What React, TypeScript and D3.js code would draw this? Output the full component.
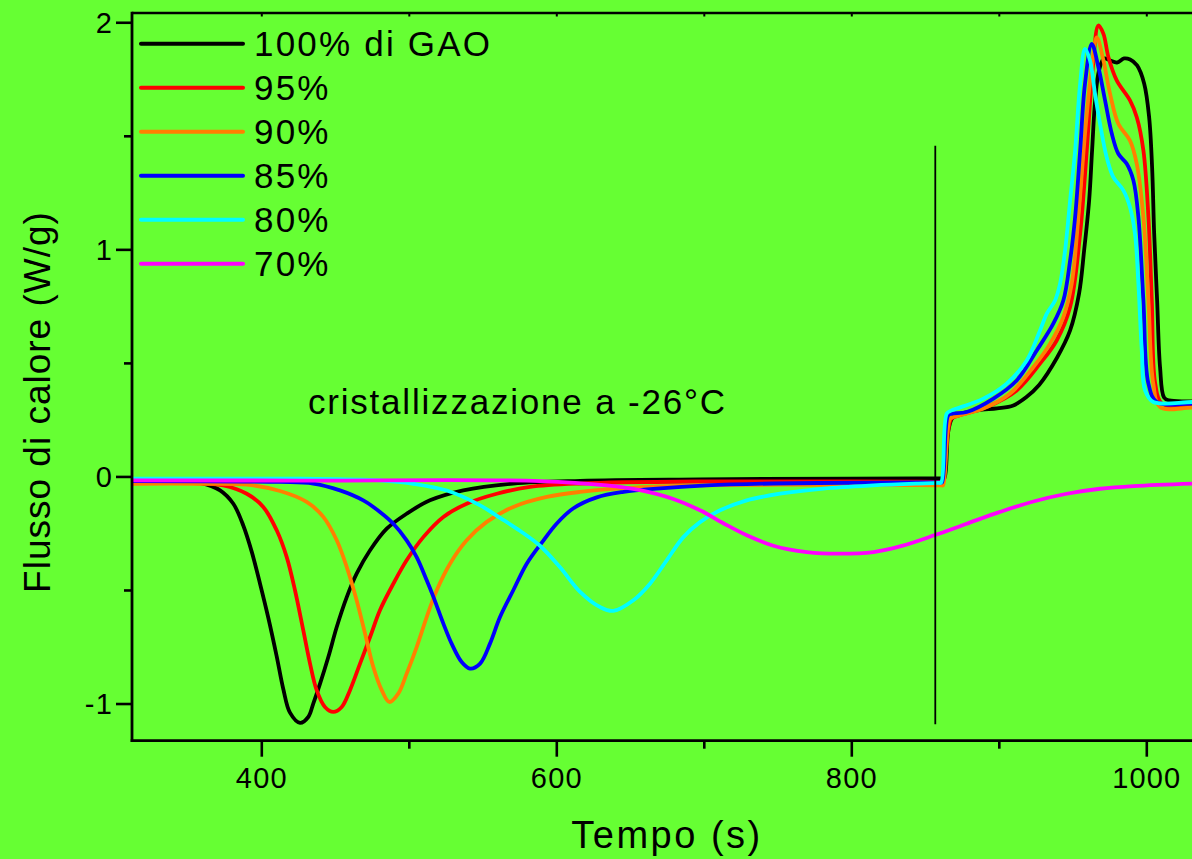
import React from "react";
import * as d3 from "d3";

// DSC traces: heat flow (W/g) vs time (s), isothermal crystallization at -26°C followed by heating
const seriesNames = ["100% di GAO", "95%", "90%", "85%", "80%", "70%"];
const seriesColors = ["#000000", "#ff0000", "#ff8000", "#0000ff", "#00ffff", "#ff00ff"];

const gao100: [number, number][] = [
  [312, -0.015], [344.5, -0.018], [358.1, -0.026], [371.7, -0.059], [380.7, -0.118], [387.5, -0.215],
  [393.2, -0.33], [398.8, -0.47], [404.4, -0.62], [410.1, -0.79], [414.6, -0.935], [419.1, -1.038],
  [425.9, -1.083], [431.5, -1.057], [434.9, -0.998], [439.5, -0.91], [445.1, -0.793], [450.8, -0.661],
  [457.6, -0.529], [464.3, -0.426], [473.4, -0.323], [484.7, -0.228], [498.2, -0.162], [514.0, -0.103],
  [536.6, -0.059], [570.5, -0.029], [615.8, -0.017], [697.1, -0.011], [799.0, -0.007], [845.0, -0.006],
  [858.0, -0.006], [861.5, -0.006], [862.8, -0.006],
  [865.5, 0.205], [868.8, 0.264], [884.9, 0.293], [898.5, 0.302], [909.5, 0.315], [918.0, 0.35],
  [927.0, 0.405], [939.2, 0.526], [948.0, 0.645], [954.1, 0.808], [957.5, 0.997], [960.9, 1.217],
  [962.9, 1.437], [965.0, 1.658], [967.6, 1.79], [971.0, 1.843], [975.1, 1.834], [979.8, 1.825],
  [984.6, 1.843], [988.7, 1.838], [993.4, 1.812], [998.2, 1.733], [1001.6, 1.583], [1003.6, 1.363],
  [1005.0, 1.072], [1007.0, 0.777], [1009.0, 0.482], [1011.7, 0.35], [1015.1, 0.337], [1028.6, 0.333],
  [1050, 0.333],
];

const gao95: [number, number][] = [
  [312, -0.025], [344.5, -0.026], [358.1, -0.028], [373.9, -0.037], [389.8, -0.074], [401.0, -0.132],
  [410.1, -0.235], [416.9, -0.353], [422.5, -0.499], [428.1, -0.675], [432.7, -0.822], [437.2, -0.939],
  [442.8, -1.013], [448.5, -1.035], [454.2, -1.013], [459.8, -0.939], [466.6, -0.822], [473.4, -0.705],
  [480.1, -0.587], [489.2, -0.47], [498.2, -0.367], [509.5, -0.265], [523.1, -0.176], [538.9, -0.118],
  [559.3, -0.074], [581.8, -0.044], [615.8, -0.029], [697.1, -0.02], [799.0, -0.02], [845.0, -0.021],
  [857.0, -0.022], [860.0, -0.022], [861.2, -0.022],
  [867.3, 0.255], [870.5, 0.266], [891.5, 0.308], [911.8, 0.381], [927.6, 0.499], [938.9, 0.601],
  [948.0, 0.748], [954.8, 1.071], [959.3, 1.437], [963.4, 1.804], [967.2, 1.988], [970.6, 1.951],
  [974.0, 1.848], [979.6, 1.746], [988.6, 1.658], [993.2, 1.584], [997.7, 1.437], [1001.1, 1.144],
  [1003.4, 0.777], [1005.7, 0.411], [1010.2, 0.323], [1030.7, 0.315], [1050, 0.315],
];

const gao90: [number, number][] = [
  [312, -0.03], [358.1, -0.03], [389.8, -0.034], [412.3, -0.062], [430.4, -0.11], [441.7, -0.176],
  [450.8, -0.279], [457.6, -0.397], [464.3, -0.543], [470.0, -0.69], [475.6, -0.837], [481.3, -0.939],
  [486.4, -0.991], [492.5, -0.954], [498.2, -0.866], [505.0, -0.749], [511.8, -0.617], [518.6, -0.499],
  [527.6, -0.382], [538.9, -0.279], [552.5, -0.198], [570.5, -0.132], [593.2, -0.088], [615.8, -0.066],
  [656.4, -0.045], [724.2, -0.035], [799.0, -0.035], [845.0, -0.036], [857.5, -0.037], [860.6, -0.037],
  [861.9, -0.037], [866.6, 0.255], [870.0, 0.266],
  [889.2, 0.301], [907.3, 0.367], [923.1, 0.484], [934.4, 0.587], [943.4, 0.704], [949.1, 0.851],
  [953.6, 1.144], [958.1, 1.511], [962.7, 1.804], [966.1, 1.936], [970.6, 1.834], [975.1, 1.687],
  [980.7, 1.555], [988.6, 1.481], [993.2, 1.379], [997.7, 1.144], [1001.1, 0.777], [1004.4, 0.411],
  [1009.0, 0.308], [1030.7, 0.305], [1050, 0.305],
];

const gao85: [number, number][] = [
  [312, -0.018], [412.3, -0.022], [434.8, -0.029], [453.0, -0.059], [468.8, -0.103], [480.1, -0.154],
  [489.2, -0.206], [498.2, -0.279], [505.0, -0.353], [511.8, -0.455], [516.4, -0.529], [523.1, -0.646],
  [528.7, -0.734], [535.5, -0.815], [541.2, -0.844], [548.0, -0.822], [554.7, -0.734], [561.5, -0.617],
  [570.5, -0.499], [579.6, -0.382], [590.9, -0.28], [600.0, -0.205], [611.3, -0.138], [627.1, -0.09],
  [645.2, -0.066], [667.8, -0.051], [701.7, -0.037], [746.8, -0.029], [814.6, -0.025], [845.0, -0.024],
  [857.0, -0.024], [860.0, -0.024], [861.2, -0.024],
  [865.3, 0.271], [867.7, 0.279], [877.9, 0.286], [896.0, 0.345], [911.8, 0.425], [925.4, 0.557],
  [936.6, 0.675], [943.4, 0.777], [948.0, 0.953], [951.4, 1.144], [954.8, 1.437], [958.1, 1.731],
  [962.7, 1.907], [967.2, 1.804], [971.7, 1.658], [976.3, 1.511], [980.7, 1.423], [986.4, 1.379],
  [990.9, 1.306], [994.3, 1.144], [997.7, 0.777], [1001.1, 0.411], [1006.8, 0.33], [1030.7, 0.323],
  [1050, 0.323],
];

const gao80: [number, number][] = [
  [312, -0.008], [425.9, -0.008], [480.1, -0.015], [502.7, -0.03], [525.4, -0.06], [548.0, -0.125],
  [561.5, -0.18], [575.0, -0.237], [588.6, -0.303], [602.2, -0.398], [615.8, -0.506], [629.3, -0.573],
  [638.3, -0.59], [651.9, -0.543], [663.2, -0.47], [674.5, -0.367], [685.8, -0.265], [697.1, -0.199],
  [710.7, -0.147], [728.8, -0.103], [751.3, -0.074], [780.7, -0.051], [814.6, -0.037], [845.0, -0.029],
  [855.3, -0.027], [858.5, -0.026], [860.5, -0.025], [864.4, 0.279], [867.7, 0.293], [871.1, 0.301],
  [889.2, 0.345], [905.0, 0.411],
  [918.6, 0.513], [927.6, 0.645], [932.2, 0.719], [937.8, 0.777], [941.2, 0.851], [944.6, 0.997],
  [948.0, 1.217], [951.4, 1.437], [954.8, 1.731], [958.1, 1.885], [961.5, 1.834], [964.9, 1.687],
  [968.3, 1.555], [972.8, 1.408], [977.3, 1.32], [984.1, 1.262], [988.6, 1.188], [992.0, 1.071],
  [994.3, 0.851], [996.6, 0.557], [998.8, 0.381], [1004.4, 0.33], [1030.7, 0.33], [1050, 0.33],
];

const gao70: [number, number][] = [
  [312, -0.015], [425.9, -0.016], [588.6, -0.018], [633.8, -0.037], [656.4, -0.058], [679.0, -0.097],
  [697.1, -0.147], [712.9, -0.204], [728.8, -0.257], [746.8, -0.303], [769.5, -0.331], [792.0, -0.338],
  [814.6, -0.331], [832.7, -0.306], [856.4, -0.256], [877.9, -0.206], [900.5, -0.154], [923.1, -0.108],
  [945.7, -0.074], [968.3, -0.052], [990.9, -0.04], [1030.7, -0.029], [1050, -0.026],
];

const seriesData = [gao100, gao95, gao90, gao85, gao80, gao70];

const xMajorTicks = [400, 600, 800, 1000];
const xMinorTicks = [500, 700, 900];
const yMajorTicks = [-1, 0, 1, 2];
const yMinorTicks = [-0.5, 0.5, 1.5];

// end of isothermal step, marked by a vertical rule
const stepTime = 856.6;
const stepRange = [-1.089, 1.458];

const annotation = "cristallizzazione a -26°C";
const annotationAt: [number, number] = [431.3, 0.2755];

const W = 1192;
const H = 859;
const BG = "#66ff33";
const FONT = "'Liberation Sans', Arial, Helvetica, sans-serif";

export default function App() {
  const left = 132;
  const top = 13;
  const bottom = 740.7;

  const x = d3.scaleLinear().domain([312, 1050]).range([left, left + 738 * 1.475]);
  const y = d3.scaleLinear().domain([-1.1615, 2.043]).range([bottom, top]);

  const line = d3
    .line<[number, number]>()
    .x((d) => x(d[0]))
    .y((d) => y(d[1]))
    .curve(d3.curveCatmullRom.alpha(0.5));

  const legendY0 = 43.7;
  const legendStep = 44;

  return (
    <svg
      width={W}
      height={H}
      style={{ position: "absolute", left: 0, top: 0, display: "block" }}
      fontFamily={FONT}
    >
      <rect x={0} y={0} width={W} height={H} fill={BG} />
      <defs>
        <clipPath id="plotArea">
          <rect x={left} y={top} width={W - left} height={bottom - top} />
        </clipPath>
      </defs>

      {/* traces */}
      <g clipPath="url(#plotArea)">
        {seriesData.map((s, i) => (
          <path
            key={seriesNames[i]}
            d={line(s) ?? ""}
            fill="none"
            stroke={seriesColors[i]}
            strokeWidth={3.8}
            strokeLinejoin="round"
          />
        ))}
      </g>

      {/* vertical rule at end of isotherm */}
      <line
        x1={x(stepTime)}
        x2={x(stepTime)}
        y1={y(stepRange[0])}
        y2={y(stepRange[1])}
        stroke="#000"
        strokeWidth={1.8}
      />

      {/* annotation */}
      <text
        x={x(annotationAt[0])}
        y={y(annotationAt[1])}
        fontSize={35}
        letterSpacing={1.8}
        fill="#000"
      >
        {annotation}
      </text>

      {/* frame: top border with small inward ticks */}
      <line x1={left} x2={W} y1={top} y2={top} stroke="#000" strokeWidth={2.6} />
      {[...xMajorTicks, ...xMinorTicks].map((t) => (
        <line key={"tt" + t} x1={x(t)} x2={x(t)} y1={top} y2={top + 3.5} stroke="#000" strokeWidth={2} />
      ))}

      {/* left axis */}
      <line x1={left} x2={left} y1={top - 1.3} y2={bottom + 1.3} stroke="#000" strokeWidth={2.8} />
      {yMajorTicks.map((t) => (
        <g key={"ym" + t}>
          <line x1={left - 16} x2={left} y1={y(t)} y2={y(t)} stroke="#000" strokeWidth={2.6} />
          <text
            x={left - 19}
            y={y(t)}
            dy="0.36em"
            textAnchor="end"
            fontSize={29}
            letterSpacing={1.2}
            fill="#000"
          >
            {t}
          </text>
        </g>
      ))}
      {yMinorTicks.map((t) => (
        <line key={"yn" + t} x1={left - 8} x2={left} y1={y(t)} y2={y(t)} stroke="#000" strokeWidth={2.6} />
      ))}

      {/* bottom axis */}
      <line x1={left - 1.3} x2={W} y1={bottom} y2={bottom} stroke="#000" strokeWidth={2.8} />
      {xMajorTicks.map((t) => (
        <g key={"xm" + t}>
          <line x1={x(t)} x2={x(t)} y1={bottom} y2={bottom + 16} stroke="#000" strokeWidth={2.6} />
          <text x={x(t)} y={788} textAnchor="middle" fontSize={29} letterSpacing={1.2} fill="#000">
            {t}
          </text>
        </g>
      ))}
      {xMinorTicks.map((t) => (
        <line key={"xn" + t} x1={x(t)} x2={x(t)} y1={bottom} y2={bottom + 8} stroke="#000" strokeWidth={2.6} />
      ))}

      {/* axis titles */}
      <text x={667} y={848} textAnchor="middle" fontSize={38} letterSpacing={2.5} fill="#000">
        Tempo (s)
      </text>
      <text
        transform="translate(50,402) rotate(-90)"
        textAnchor="middle"
        fontSize={37}
        letterSpacing={1}
        fill="#000"
      >
        Flusso di calore (W/g)
      </text>

      {/* legend */}
      {seriesNames.map((name, i) => {
        const ly = legendY0 + i * legendStep;
        return (
          <g key={"lg" + name}>
            <line x1={141} x2={243} y1={ly} y2={ly} stroke={seriesColors[i]} strokeWidth={4} strokeLinecap="round" />
            <text x={254} y={ly + 12.5} fontSize={35} letterSpacing={2.2} fill="#000">
              {name}
            </text>
          </g>
        );
      })}
    </svg>
  );
}
